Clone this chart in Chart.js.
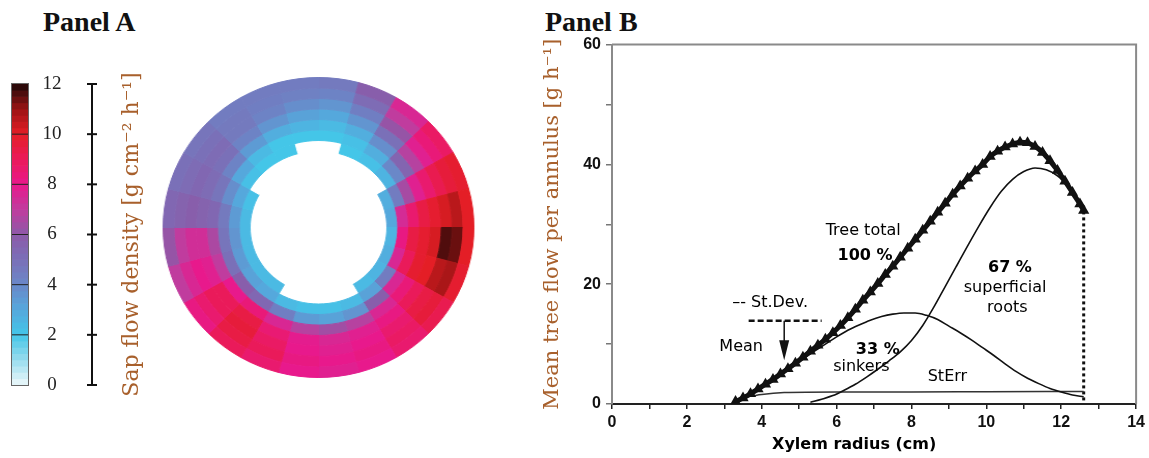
<!DOCTYPE html>
<html><head><meta charset="utf-8">
<script src="https://cdn.jsdelivr.net/npm/chart.js@4.4.1/dist/chart.umd.min.js"></script>
<style>
html,body{margin:0;padding:0;background:#fff;width:1149px;height:458px;overflow:hidden;position:relative}
.ttl{position:absolute;font-family:"Liberation Serif","Times New Roman",serif;font-weight:bold;font-size:28px;color:#111;line-height:28px;white-space:nowrap}
#cbWrap{position:absolute;left:0;top:60px;width:170px;height:345px}
#ringWrap{position:absolute;left:168px;top:77px;width:301px;height:301px;transform:scaleX(1.036);transform-origin:50% 50%}
#bWrap{position:absolute;left:536px;top:30px;width:613px;height:428px}
</style></head>
<body>
<div class="ttl" style="left:43px;top:8px">Panel A</div>
<div class="ttl" style="left:545px;top:8px">Panel B</div>
<div id="cbWrap"><canvas id="cb"></canvas></div>
<div id="ringWrap"><canvas id="ring"></canvas></div>
<div id="bWrap"><canvas id="pb"></canvas></div>
<script>
// ---------- Panel A data ----------
const cmapStops  = [0,1,2,3,4,5,6,7,8,9,10,11,12];
const cmapColors = ['#eef8fb','#98dcee','#44c6e8','#55a8dc','#6a88c8','#7a70b8','#8c5aa8','#c03c9e','#e8198c','#ea1a5a','#e41e26','#9c1414','#1e0808'];
const cbTicks = [0,2,4,6,8,10,12];
const cbMin = 0, cbMax = 12;
// 24 angular sectors (15 deg each), clockwise from top; rings from inner (ring0) to outer (ring7)
const sectorDeg = [15,15,15,15,15,15,15,15,15,15,15,15,15,15,15,15,15,15,15,15,15,15,15,15];
const ring0 = [null,null,null,null,2.8,3.0,2.6,2.8,2.6,2.4,null,null,null,null,2.4,2.4,2.4,2.4,2.4,2.2,null,null,null,null];
const ring1 = [null,2.0,2.2,2.6,4.5,7.5,8.2,7.6,4.5,3.2,2.4,2.2,2.2,2.4,3.0,3.2,3.4,3.6,3.4,3.0,2.2,2.0,2.0,null];
const ring2 = [2.0,2.2,2.8,4.0,6.5,8.6,9.4,9.0,7.6,5.8,3.6,3.2,3.4,4.4,5.4,5.8,5.0,4.8,4.6,3.8,3.0,2.4,2.0,2.0];
const ring3 = [2.4,2.8,3.8,5.5,7.8,9.4,9.8,9.8,8.4,7.6,6.8,6.4,6.8,7.6,8.4,8.0,7.0,6.6,5.4,4.8,4.2,3.4,2.8,2.6];
const ring4 = [3.0,3.6,5.0,6.8,8.6,9.8,10.2,10.0,9.0,8.2,7.8,7.6,7.9,8.5,9.4,9.0,7.8,7.4,5.6,5.2,5.0,4.2,3.6,3.2];
const ring5 = [3.6,4.4,6.2,7.8,9.2,10.2,11.6,10.6,9.4,8.6,8.0,7.8,8.0,8.8,9.6,9.0,8.0,7.4,5.8,5.4,5.2,4.6,4.2,3.8];
const ring6 = [4.2,5.2,7.0,8.4,9.6,10.6,11.4,10.8,9.6,8.8,8.2,8.0,8.2,9.0,9.4,8.6,7.6,7.0,5.6,5.2,5.0,4.6,4.4,4.3];
const ring7 = [4.6,5.8,7.6,8.8,9.8,10.0,10.0,9.8,9.2,8.6,8.0,7.8,8.0,8.6,9.0,8.2,7.0,6.2,5.4,5.0,4.8,4.5,4.5,4.5];

// ---------- Panel B data ----------
const totalX = [3.3,3.5,3.7,3.9,4.1,4.3,4.5,4.7,4.9,5.1,5.3,5.5,5.7,5.9,6.1,6.3,6.5,6.7,6.9,7.1,7.3,7.5,7.7,7.9,8.1,8.3,8.5,8.7,8.9,9.1,9.3,9.5,9.7,9.9,10.1,10.3,10.5,10.7,10.9,11.1,11.3,11.5,11.7,11.9,12.1,12.3,12.5,12.6];
const totalY = [0.4,1.0,1.7,2.5,3.3,4.1,5.0,5.9,6.8,7.8,8.8,9.8,10.8,11.9,13.1,14.4,15.8,17.3,18.7,20.1,21.6,23.0,24.5,26.0,27.5,29.0,30.5,32.0,33.5,35.0,36.4,37.7,38.9,40.0,41.3,42.2,42.9,43.4,43.7,43.6,43.0,42.0,40.6,39.0,37.2,35.3,33.4,32.3];
const rootsX = [5.3,5.6,5.9,6.2,6.5,6.8,7.1,7.4,7.7,8.0,8.3,8.6,8.9,9.2,9.5,9.8,10.1,10.4,10.7,11.0,11.3,11.6,11.9,12.2,12.4,12.6];
const rootsY = [0.3,0.8,1.4,2.3,3.3,4.5,5.8,7.2,8.7,10.6,13.1,16.2,19.6,23.0,26.4,29.7,32.8,35.5,37.5,38.8,39.4,39.1,38.1,36.2,34.6,32.3];
const sinkX = [3.3,3.6,3.9,4.2,4.5,4.8,5.1,5.4,5.7,6.0,6.3,6.6,6.9,7.2,7.5,7.8,8.1,8.4,8.7,9.0,9.3,9.6,9.9,10.2,10.5,10.8,11.1,11.4,11.7,12.0,12.3,12.6];
const sinkY = [0.4,1.3,2.4,3.6,4.9,6.2,7.5,8.8,10.0,11.2,12.3,13.2,14.0,14.6,15.0,15.2,15.2,14.8,14.1,13.0,11.9,10.7,9.4,8.1,6.7,5.4,4.3,3.4,2.6,2.0,1.5,1.2];
const sterrX = [3.4,4.0,4.6,6.0,8.0,10.0,12.6];
const sterrY = [1.0,1.6,1.9,2.0,2.0,2.05,2.1];
const cutX = [12.6,12.6];
const cutY = [0.6,32.3];
const sdLegX = [3.65,5.6];
const sdLegY = [13.9,13.9];
const arrowX = 4.6, arrowFrom = 13.9, arrowTo = 7.3;
const xMin = 0, xMax = 14, yMin = 0, yMax = 60;
const notes = [
  {t:'\u2013- St.Dev.', x:3.21, y:16.9, align:'left'},
  {t:'Mean', x:3.45, y:9.5},
  {t:'Tree total', x:6.71, y:28.9},
  {t:'100 %', x:6.76, y:24.75, bold:true},
  {t:'67 %', x:10.63, y:22.76, bold:true},
  {t:'superficial', x:10.5, y:19.4},
  {t:'roots', x:10.56, y:16.1},
  {t:'33 %', x:7.1, y:9.1, bold:true},
  {t:'sinkers', x:6.66, y:6.15},
  {t:'StErr', x:8.96, y:4.5}
];

// ---------- helpers ----------
function hex2rgb(h){return [parseInt(h.slice(1,3),16),parseInt(h.slice(3,5),16),parseInt(h.slice(5,7),16)];}
function colorFor(v){
  if(v===null||v===undefined) return '#ffffff';
  v=Math.max(cmapStops[0],Math.min(cmapStops[cmapStops.length-1],v));
  let i=0; while(i<cmapStops.length-2 && v>cmapStops[i+1]) i++;
  const t=(v-cmapStops[i])/(cmapStops[i+1]-cmapStops[i]);
  const a=hex2rgb(cmapColors[i]), b=hex2rgb(cmapColors[i+1]);
  return 'rgb('+a.map((c,k)=>Math.round(c+(b[k]-c)*t)).join(',')+')';
}
const pts=(xs,ys)=>xs.map((x,i)=>({x:x,y:ys[i]}));

// ---------- Colorbar ----------
const cbMid = Array.from({length:48},(_,i)=>cbMin+(i+0.5)*(cbMax-cbMin)/48);
const cbPlugin = {
  id:'cbdeco',
  afterDraw(chart){
    const {ctx, chartArea:a} = chart;
    const py = v => a.bottom - (v-cbMin)/(cbMax-cbMin)*(a.bottom-a.top);
    ctx.save();
    ctx.strokeStyle='#666'; ctx.lineWidth=1;
    ctx.strokeRect(a.left-0.5,a.top-0.5,a.right-a.left+1,a.bottom-a.top+1);
    ctx.strokeStyle='#222';
    cbTicks.forEach(v=>{ if(v>cbMin&&v<cbMax){ctx.beginPath();ctx.moveTo(a.left,py(v));ctx.lineTo(a.right,py(v));ctx.stroke();}});
    ctx.fillStyle='#222'; ctx.font='19px "Liberation Serif"'; ctx.textAlign='center'; ctx.textBaseline='middle';
    cbTicks.forEach(v=>ctx.fillText(String(v),52,py(v)));
    ctx.lineWidth=2; ctx.strokeStyle='#111';
    ctx.beginPath(); ctx.moveTo(92,py(cbMin)+1); ctx.lineTo(92,py(cbMax)-1); ctx.stroke();
    cbTicks.forEach(v=>{ctx.beginPath();ctx.moveTo(87,py(v));ctx.lineTo(97,py(v));ctx.stroke();});
    ctx.translate(132,(a.top+a.bottom)/2); ctx.rotate(-Math.PI/2);
    ctx.font='22px "DejaVu Serif"'; ctx.fillStyle='#a8602c';
    ctx.fillText('Sap flow density [g cm\u207B\u00B2 h\u207B\u00B9]',0,0);
    ctx.restore();
  }
};
new Chart(document.getElementById('cb'),{
  type:'bar',
  data:{labels:cbMid.map(v=>v.toFixed(3)),datasets:[{data:cbMid.map(()=>1),backgroundColor:cbMid.map(colorFor),borderWidth:0,barPercentage:1,categoryPercentage:1}]},
  options:{indexAxis:'y',animation:false,responsive:true,maintainAspectRatio:false,events:[],
    layout:{padding:{left:12,right:142,top:24,bottom:20}},
    plugins:{legend:{display:false},tooltip:{enabled:false}},
    scales:{y:{type:'category',reverse:true,display:false},x:{type:'linear',min:0,max:1,display:false}}},
  plugins:[cbPlugin]
});

// ---------- Ring (doughnut, one dataset per ring, outermost first) ----------
const rings=[ring7,ring6,ring5,ring4,ring3,ring2,ring1,ring0];
new Chart(document.getElementById('ring'),{
  type:'doughnut',
  data:{labels:sectorDeg.map((d,i)=>'s'+i),
    datasets:rings.map(r=>({data:sectorDeg,backgroundColor:r.map(colorFor),borderColor:r.map(colorFor),borderWidth:1,hoverOffset:0}))},
  options:{animation:false,responsive:true,maintainAspectRatio:false,events:[],cutout:'44%',
    layout:{padding:0},plugins:{legend:{display:false},tooltip:{enabled:false}}}
});

// ---------- Panel B ----------
const pbPlugin = {
  id:'pbdeco',
  afterDraw(chart){
    const {ctx, chartArea:a, scales:{x,y}} = chart;
    ctx.save();
    ctx.strokeStyle='#8a8a8a'; ctx.lineWidth=2;
    ctx.beginPath(); ctx.moveTo(a.left,a.top); ctx.lineTo(a.right,a.top); ctx.lineTo(a.right,a.bottom); ctx.stroke();
    const ax=x.getPixelForValue(arrowX), y0=y.getPixelForValue(arrowFrom), y1=y.getPixelForValue(arrowTo);
    ctx.strokeStyle='#111'; ctx.lineWidth=1.5;
    ctx.beginPath(); ctx.moveTo(ax,y0); ctx.lineTo(ax,y1-18); ctx.stroke();
    ctx.fillStyle='#111'; ctx.beginPath(); ctx.moveTo(ax-5,y1-20); ctx.lineTo(ax+5,y1-20); ctx.lineTo(ax,y1); ctx.closePath(); ctx.fill();
    ctx.textBaseline='middle';
    notes.forEach(n=>{
      ctx.font=(n.bold?'bold ':'')+'16px "DejaVu Sans"';
      ctx.textAlign=n.align||'center';
      ctx.fillStyle='#000';
      ctx.fillText(n.t,x.getPixelForValue(n.x),y.getPixelForValue(n.y));
    });
    ctx.font='bold 16px "DejaVu Sans"'; ctx.textAlign='center';
    ctx.fillText('Xylem radius (cm)', x.getPixelForValue(6.47), a.bottom+41);
    ctx.restore();
  }
};
new Chart(document.getElementById('pb'),{
  type:'scatter',
  data:{datasets:[
    {label:'Tree total',data:pts(totalX,totalY),showLine:true,borderColor:'#111',borderWidth:5,cubicInterpolationMode:'monotone',
      pointStyle:'triangle',pointRadius:6.5,pointBackgroundColor:'#111',pointBorderColor:'#111',pointBorderWidth:0},
    {label:'superficial roots',data:pts(rootsX,rootsY),showLine:true,borderColor:'#111',borderWidth:1.6,cubicInterpolationMode:'monotone',pointRadius:0},
    {label:'sinkers',data:pts(sinkX,sinkY),showLine:true,borderColor:'#111',borderWidth:1.6,cubicInterpolationMode:'monotone',pointRadius:0},
    {label:'StErr',data:pts(sterrX,sterrY),showLine:true,borderColor:'#333',borderWidth:1.5,cubicInterpolationMode:'monotone',pointRadius:0},
    {label:'cut',data:pts(cutX,cutY),showLine:true,borderColor:'#111',borderWidth:3,borderDash:[3,3],pointRadius:0},
    {label:'St.Dev.',data:pts(sdLegX,sdLegY),showLine:true,borderColor:'#111',borderWidth:2.5,borderDash:[6,3],pointRadius:0}
  ]},
  options:{animation:false,responsive:true,maintainAspectRatio:false,events:[],
    layout:{padding:{left:0,top:13,right:9,bottom:0}},
    plugins:{legend:{display:false},tooltip:{enabled:false}},
    scales:{
      x:{type:'linear',min:xMin,max:xMax,
        afterFit:s=>{s.height=54;},
        ticks:{stepSize:1,autoSkip:false,maxRotation:0,padding:4,color:'#111',font:{family:'"Liberation Sans", Arial',weight:'bold',size:16},
          callback:v=>(v%2===0?String(v):'')},
        grid:{drawOnChartArea:false,tickLength:5,color:'#222',lineWidth:1.5},
        border:{color:'#222',width:2}},
      y:{type:'linear',min:yMin,max:yMax,
        afterFit:s=>{s.width=76;},
        ticks:{stepSize:10,padding:5,color:'#111',font:{family:'"Liberation Sans", Arial',weight:'bold',size:16},
          callback:v=>(v%20===0?String(v):'')},
        grid:{drawOnChartArea:false,tickLength:6,color:'#777',lineWidth:1.5},
        border:{color:'#8a8a8a',width:2},
        title:{display:true,text:'Mean tree flow per annulus [g h\u207B\u00B9]',color:'#a8602c',
          font:{family:'"DejaVu Serif"',size:21},padding:{top:4,bottom:4}}}
    }},
  plugins:[pbPlugin]
});
</script>
</body></html>
